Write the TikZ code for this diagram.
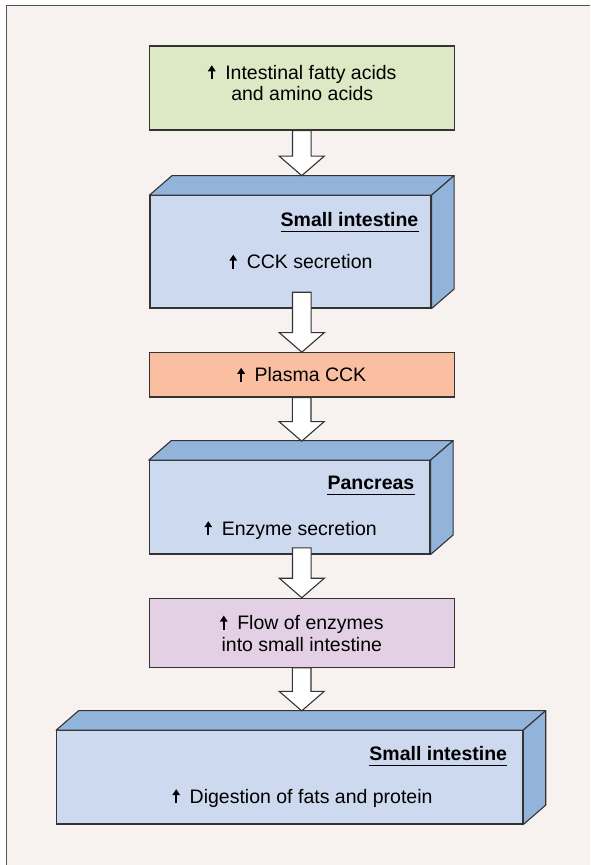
\documentclass[tikz,border=0pt]{standalone}
\usepackage{fontspec}
\setmainfont{Liberation Sans}
\usetikzlibrary{calc,arrows.meta,positioning}

\def\depthx{22.5}
\def\depthy{19.5}
\def\shafthalf{9.3pt}
\def\headhalf{22.5pt}
\def\headlen{19.5pt}
\definecolor{paper}{RGB}{247, 242, 239}
\definecolor{acidgreen}{RGB}{221, 232, 196}
\definecolor{organfront}{RGB}{204, 217, 238}
\definecolor{organtop}{RGB}{146, 180, 219}
\definecolor{plasmasalmon}{RGB}{250, 190, 160}
\definecolor{flowlilac}{RGB}{227, 208, 228}
\definecolor{linegray}{RGB}{51, 51, 51}

\newcommand{\upmark}{\tikz[baseline=0pt]\draw[black, line width=2.4pt, -{Triangle[width=7.5pt,length=6pt]}] (0pt,0pt) -- (0pt,14pt);\hspace{0.5em}}

\begin{document}
\begin{tikzpicture}[x=1pt, y=1pt,
    flat/.style={draw=linegray, line width=1.1pt, minimum width=305pt, inner sep=0pt},
    front/.style={draw=linegray, line width=1.1pt, fill=organfront, inner sep=0pt, minimum height=93.3pt},
    face/.style={draw=linegray, line width=1.1pt, fill=organtop, line join=round},
    txt/.style={font=\fontsize{19.5}{21.5}\selectfont, align=center, text=black, inner sep=0pt},
    organ/.style={font=\fontsize{19.5}{21.5}\selectfont\bfseries, text=black, inner sep=0pt, anchor=base east},
    fatarrow/.style={draw=linegray, line width=1.1pt, fill=white, line join=miter}
    ]

    % Paper and frame
    \useasboundingbox (0,0) rectangle (590,-865);
    \fill[paper] (6.5,-5.5) rectangle (590,-865);
    \draw[linegray!85, line width=1.6pt] (590,-5.5) -- (6.5,-5.5) -- (6.5,-865);

    % Define boxes
    \node[flat, fill=acidgreen, minimum height=84pt] (acids) at (302.25,-88) {};
    \node[txt] (acidstext) at ([yshift=5.5]acids.center) {\upmark Intestinal fatty acids\\and amino acids};
    \node[front, minimum width=281pt, minimum height=112.3pt] (cck) at (290.5,-251.85) {};
    \node[flat, txt, fill=plasmasalmon, minimum height=44.3pt] (plasma) at (301.8,-374.85) {\upmark Plasma CCK};
    \node[front, minimum width=280.7pt] (panc) at (289.65,-507.35) {};
    \node[flat, txt, fill=flowlilac, minimum height=69pt] (flow) at (301.8,-632.8) {\upmark Flow of enzymes\\into small intestine};
    \node[front, minimum width=466pt] (dig) at (289.7,-777.35) {};

    % Top and side faces
    \foreach \n in {cck, panc, dig} {
        \draw[face] (\n.north west) -- ++(\depthx,\depthy) -- ($(\n.north east)+(\depthx,\depthy)$) -- (\n.north east) -- cycle;
        \draw[face] (\n.north east) -- ++(\depthx,\depthy) -- ($(\n.south east)+(\depthx,\depthy)$) -- (\n.south east) -- cycle;
    }

    % Organ names and effects
    \node[organ] (cckorgan) at ([xshift=-13,yshift=-31]cck.north east) {Small intestine};
    \node[txt, anchor=base] (ccktext) at ([xshift=10.5,yshift=-73.5]cck.north) {\upmark CCK secretion};
    \node[organ] (pancorgan) at ([xshift=-16,yshift=-29.5]panc.north east) {Pancreas};
    \node[txt, anchor=base] (panctext) at ([xshift=1,yshift=-75]panc.north) {\upmark Enzyme secretion};
    \node[organ] (digorgan) at ([xshift=-16,yshift=-30]dig.north east) {Small intestine};
    \node[txt, anchor=base] (digtext) at ([xshift=12.8,yshift=-73]dig.north) {\upmark Digestion of fats and protein};
    \foreach \n in {cckorgan, pancorgan, digorgan}
        \draw[black, line width=1pt] ([yshift=-5.3]\n.base west) -- ([yshift=-5.3]\n.base east);

    % Arrow ends on the boxes
    \coordinate (cck-in) at ([xshift=11.25,yshift=19.5]cck.north);
    \coordinate (cck-out) at ([xshift=11.25,yshift=16.3]cck.south);
    \coordinate (panc-in) at ([xshift=12,yshift=19]panc.north);
    \coordinate (panc-out) at ([xshift=12,yshift=6.7]panc.south);
    \coordinate (dig-in) at ([xshift=12,yshift=19.3]dig.north);

    % Define arrows
    \foreach \src/\dst in {acids.south/cck-in, cck-out/plasma.north, plasma.south/panc-in, panc-out/flow.north, flow.south/dig-in} {
        \draw[fatarrow] let \p1=(\src), \p2=(\dst) in
            (\x2-\shafthalf,\y1) -- (\x2-\shafthalf,\y2+\headlen) -- (\x2-\headhalf,\y2+\headlen) -- (\x2,\y2)
            -- (\x2+\headhalf,\y2+\headlen) -- (\x2+\shafthalf,\y2+\headlen) -- (\x2+\shafthalf,\y1) -- cycle;
    }
\end{tikzpicture}
\end{document}
